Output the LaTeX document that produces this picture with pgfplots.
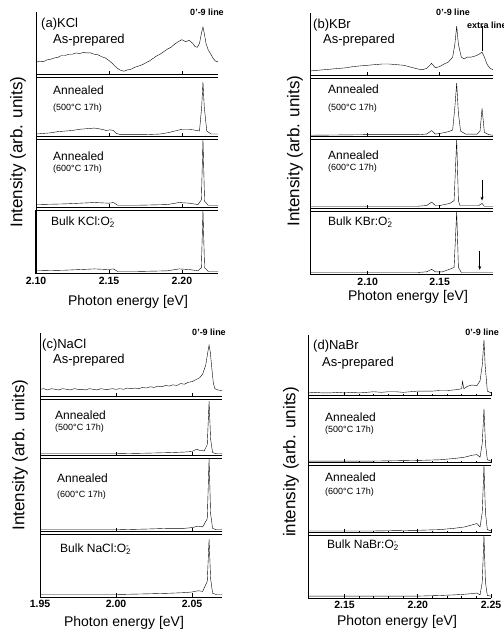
\documentclass[border=0pt]{standalone}
\usepackage{fontspec}
\setmainfont{Liberation Sans}
\usepackage{pgfplots}
\pgfplotsset{compat=1.18}
\usetikzlibrary{arrows.meta}

\newcommand{\Otwo}{O\rlap{\textsuperscript{-}}\textsubscript{2}}
\newcommand{\fs}[1]{\fontsize{#1}{#1}\selectfont}

\pgfplotsset{
  spec/.style={
    scale only axis, anchor=south west, clip=false,
    axis x line*=bottom, axis y line*=left,
    axis line style={line width=1.0pt},
    ymin=0, ymax=1, ytick=\empty,
    tick align=inside,
    major tick length=4pt, minor tick length=2pt,
    tick style={black, line width=0.8pt},
    xticklabels={},
    cycle list={{black, line width=0.9pt, no marks}},
  },
  % thin upper rule of the lower boxes
  midbox/.style={extra description/.code={
    \draw[line width=0.6pt] (rel axis cs:0,1) -- (rel axis cs:1,1);}},
  lowest/.style={
    xticklabel={\pgfmathprintnumber{\tick}},
    xticklabel style={font=\fs{10.5}\bfseries,
      /pgf/number format/.cd, fixed, fixed zerofill, precision=2,
      assume math mode=true},
  },
}

\begin{document}
\begin{tikzpicture}
\useasboundingbox (0pt,0pt) rectangle (503pt,634pt);

%% ---------------- (a) KCl ----------------
\pgfplotsset{pa/.style={spec, width=182pt, xmin=2.10, xmax=2.2247, xtick={2.10,2.15,2.20}}}
\begin{axis}[pa, at={(36pt,559pt)}, height=63pt]
\addplot coordinates {(2.1000,0.20) (2.1025,0.22) (2.1050,0.21) (2.1075,0.24) (2.1100,0.25)
 (2.1125,0.27) (2.1150,0.28) (2.1175,0.31) (2.1200,0.31) (2.1225,0.33) (2.1250,0.33)
 (2.1275,0.35) (2.1300,0.34) (2.1325,0.36) (2.1350,0.35) (2.1375,0.35) (2.1400,0.33)
 (2.1425,0.32) (2.1450,0.29) (2.1475,0.27) (2.1500,0.23) (2.1525,0.18) (2.1550,0.12)
 (2.1575,0.08) (2.1600,0.06) (2.1625,0.08) (2.1650,0.09) (2.1675,0.12) (2.1700,0.14)
 (2.1725,0.16) (2.1750,0.19) (2.1775,0.22) (2.1800,0.26) (2.1825,0.30) (2.1850,0.33)
 (2.1875,0.37) (2.1900,0.41) (2.1925,0.44) (2.1950,0.49) (2.1975,0.53) (2.2000,0.56)
 (2.2025,0.53) (2.2050,0.55) (2.2075,0.50) (2.2090,0.45) (2.2105,0.44) (2.2120,0.50)
 (2.2135,0.68) (2.2144,0.76) (2.2153,0.66) (2.2165,0.50) (2.2180,0.40) (2.2200,0.32)
 (2.2215,0.26) (2.2230,0.22) (2.2247,0.21)};
\end{axis}
\begin{axis}[pa, midbox, at={(36pt,497pt)}, height=59.5pt]
\addplot coordinates {(2.100,0.05) (2.105,0.06) (2.110,0.07) (2.115,0.09) (2.120,0.10)
 (2.125,0.11) (2.130,0.13) (2.135,0.14) (2.140,0.15) (2.145,0.13) (2.148,0.11) (2.151,0.12)
 (2.153,0.11) (2.155,0.06) (2.158,0.04) (2.165,0.04) (2.175,0.04) (2.185,0.05) (2.190,0.07)
 (2.195,0.10) (2.200,0.13) (2.205,0.13) (2.210,0.11) (2.212,0.10) (2.2135,0.50) (2.2144,0.92)
 (2.2153,0.50) (2.2170,0.10) (2.2200,0.05) (2.2247,0.05)};
\end{axis}
\begin{axis}[pa, midbox, at={(36pt,426pt)}, height=68.5pt]
\addplot coordinates {(2.100,0.05) (2.120,0.06) (2.140,0.08) (2.150,0.07) (2.153,0.08)
 (2.156,0.04) (2.170,0.04) (2.190,0.05) (2.198,0.08) (2.205,0.07) (2.211,0.05) (2.2133,0.12)
 (2.2144,1.00) (2.2155,0.10) (2.218,0.04) (2.2247,0.04)};
\end{axis}
\begin{axis}[pa, midbox, lowest, at={(36pt,360pt)}, height=63.5pt]
\addplot coordinates {(2.100,0.05) (2.120,0.06) (2.140,0.08) (2.150,0.07) (2.153,0.08)
 (2.156,0.04) (2.170,0.04) (2.190,0.05) (2.198,0.08) (2.205,0.07) (2.211,0.05) (2.2133,0.10)
 (2.2144,1.00) (2.2155,0.10) (2.218,0.04) (2.2247,0.04)};
\end{axis}

%% ---------------- (b) KBr ----------------
\pgfplotsset{pb/.style={spec, width=183pt, xmin=2.06, xmax=2.187, xtick={2.10,2.15}}}
\begin{axis}[pb, at={(310pt,558pt)}, height=63pt]
\addplot coordinates {(2.060,0.08) (2.065,0.09) (2.070,0.10) (2.075,0.11) (2.080,0.12)
 (2.085,0.13) (2.090,0.15) (2.095,0.16) (2.100,0.17) (2.105,0.18) (2.110,0.19) (2.115,0.19)
 (2.120,0.18) (2.125,0.17) (2.130,0.14) (2.135,0.11) (2.138,0.10) (2.141,0.12) (2.1444,0.20)
 (2.147,0.13) (2.150,0.15) (2.153,0.19) (2.156,0.22) (2.159,0.30) (2.1605,0.50) (2.1618,0.79)
 (2.163,0.50) (2.165,0.30) (2.167,0.27) (2.169,0.30) (2.172,0.30) (2.175,0.32) (2.177,0.34)
 (2.1794,0.38) (2.181,0.30) (2.183,0.18) (2.185,0.12) (2.187,0.10)};
\draw[line width=0.8pt] (axis cs:2.1794,0.40) -- (axis cs:2.1794,0.80);
\end{axis}
\begin{axis}[pb, midbox, at={(310pt,497pt)}, height=58.5pt]
\addplot coordinates {(2.060,0.03) (2.100,0.04) (2.125,0.04) (2.135,0.04) (2.141,0.05)
 (2.1444,0.11) (2.147,0.05) (2.150,0.06) (2.156,0.09) (2.159,0.12) (2.1605,0.50) (2.1618,0.92)
 (2.163,0.40) (2.1645,0.10) (2.168,0.05) (2.176,0.05) (2.178,0.10) (2.1794,0.49) (2.181,0.08)
 (2.184,0.04) (2.187,0.03)};
\end{axis}
\begin{axis}[pb, midbox, at={(310pt,425pt)}, height=69.5pt]
\addplot coordinates {(2.060,0.04) (2.100,0.04) (2.135,0.04) (2.141,0.05) (2.1444,0.10)
 (2.147,0.05) (2.150,0.05) (2.157,0.08) (2.160,0.12) (2.1618,1.00) (2.163,0.12) (2.164,0.05)
 (2.177,0.05) (2.1794,0.08) (2.181,0.04) (2.187,0.04)};
\draw[-{Stealth[length=4pt,width=3pt]}, line width=0.7pt] (axis cs:2.1794,0.42) -- (axis cs:2.1794,0.12);
\end{axis}
\begin{axis}[pb, midbox, lowest, at={(310pt,359pt)}, height=63.5pt]
\addplot coordinates {(2.060,0.04) (2.100,0.04) (2.135,0.04) (2.141,0.05) (2.1444,0.09)
 (2.147,0.05) (2.152,0.05) (2.158,0.10) (2.160,0.12) (2.1618,1.00) (2.163,0.12) (2.165,0.04)
 (2.187,0.04)};
\draw[-{Stealth[length=4pt,width=3pt]}, line width=0.7pt] (axis cs:2.1778,0.38) -- (axis cs:2.1778,0.08);
\end{axis}

%% ---------------- (c) NaCl ----------------
\pgfplotsset{pc/.style={spec, width=182pt, xmin=1.95, xmax=2.0697, xtick={1.95,2.00,2.05}}}
\begin{axis}[pc, at={(40pt,237pt)}, height=64pt]
\addplot coordinates {(1.950,0.12) (1.9525,0.13) (1.955,0.11) (1.9575,0.13) (1.960,0.12)
 (1.9625,0.11) (1.965,0.13) (1.9675,0.12) (1.970,0.11) (1.9725,0.13) (1.975,0.12) (1.9775,0.12)
 (1.980,0.11) (1.9825,0.13) (1.985,0.12) (1.9875,0.11) (1.990,0.13) (1.9925,0.12) (1.995,0.12)
 (1.9975,0.13) (2.000,0.12) (2.0025,0.13) (2.005,0.12) (2.0075,0.14) (2.010,0.13) (2.0125,0.14)
 (2.015,0.13) (2.0175,0.15) (2.020,0.14) (2.0225,0.16) (2.025,0.15) (2.0275,0.17) (2.030,0.16)
 (2.0325,0.18) (2.035,0.17) (2.0375,0.19) (2.040,0.18) (2.0425,0.21) (2.045,0.20) (2.0475,0.23)
 (2.050,0.24) (2.0525,0.27) (2.055,0.30) (2.057,0.36) (2.059,0.50) (2.0605,0.72) (2.0612,0.81)
 (2.062,0.70) (2.063,0.45) (2.064,0.22) (2.065,0.13) (2.067,0.11) (2.0697,0.10)};
\end{axis}
\begin{axis}[pc, midbox, at={(40pt,178pt)}, height=56.5pt]
\addplot coordinates {(1.950,0.04) (1.980,0.04) (2.000,0.04) (2.020,0.05) (2.035,0.06)
 (2.045,0.07) (2.050,0.08) (2.053,0.12) (2.055,0.10) (2.058,0.09) (2.0600,0.20) (2.0612,0.97)
 (2.0622,0.30) (2.0635,0.06) (2.066,0.04) (2.0697,0.04)};
\end{axis}
\begin{axis}[pc, midbox, at={(40pt,102pt)}, height=73.5pt]
\addplot coordinates {(1.950,0.03) (1.980,0.03) (2.000,0.03) (2.020,0.04) (2.035,0.05)
 (2.045,0.05) (2.050,0.06) (2.054,0.08) (2.057,0.07) (2.0600,0.18) (2.0612,1.00)
 (2.0622,0.25) (2.0635,0.05) (2.066,0.03) (2.0697,0.03)};
\end{axis}
\begin{axis}[pc, midbox, lowest, at={(40pt,37pt)}, height=62.5pt]
\addplot coordinates {(1.950,0.04) (1.980,0.04) (2.000,0.04) (2.020,0.05) (2.035,0.06)
 (2.045,0.07) (2.050,0.08) (2.054,0.10) (2.057,0.09) (2.0600,0.25) (2.0612,0.92)
 (2.0622,0.30) (2.0635,0.06) (2.066,0.04) (2.0697,0.04)};
\end{axis}

%% ---------------- (d) NaBr ----------------
\pgfplotsset{pd/.style={spec, width=183pt, xmin=2.125, xmax=2.25, xtick={2.15,2.20,2.25}, minor x tick num=4}}
\begin{axis}[pd, at={(308pt,238pt)}, height=61pt]
\addplot coordinates {(2.125,0.05) (2.130,0.06) (2.135,0.05) (2.140,0.05) (2.145,0.06)
 (2.150,0.05) (2.155,0.06) (2.160,0.05) (2.165,0.06) (2.170,0.07) (2.175,0.06) (2.180,0.07)
 (2.185,0.07) (2.190,0.06) (2.195,0.07) (2.200,0.08) (2.205,0.08) (2.210,0.08) (2.215,0.09)
 (2.220,0.09) (2.225,0.10) (2.228,0.11) (2.2300,0.12) (2.2305,0.24) (2.2315,0.12)
 (2.234,0.16) (2.237,0.18) (2.2404,0.17) (2.2425,0.25) (2.244,0.50) (2.2452,0.92)
 (2.246,0.50) (2.2475,0.08) (2.250,0.05)};
\end{axis}
\begin{axis}[pd, midbox, at={(308pt,171pt)}, height=64.5pt]
\addplot coordinates {(2.125,0.03) (2.170,0.03) (2.200,0.04) (2.215,0.05) (2.225,0.07)
 (2.232,0.09) (2.237,0.12) (2.2404,0.13) (2.2425,0.09) (2.2440,0.30) (2.2452,0.84)
 (2.2462,0.30) (2.2475,0.05) (2.250,0.03)};
\end{axis}
\begin{axis}[pd, midbox, at={(308pt,101pt)}, height=67.5pt]
\addplot coordinates {(2.125,0.03) (2.170,0.03) (2.200,0.04) (2.215,0.05) (2.225,0.07)
 (2.232,0.09) (2.237,0.12) (2.2404,0.14) (2.2425,0.09) (2.2440,0.30) (2.2452,1.00)
 (2.2462,0.30) (2.2475,0.05) (2.250,0.03)};
\end{axis}
\begin{axis}[pd, midbox, lowest, at={(308pt,36pt)}, height=62.5pt]
\addplot coordinates {(2.125,0.03) (2.170,0.03) (2.200,0.03) (2.215,0.04) (2.225,0.05)
 (2.232,0.06) (2.237,0.07) (2.2404,0.08) (2.2425,0.05) (2.2440,0.25) (2.2452,1.00)
 (2.2462,0.25) (2.2475,0.04) (2.250,0.03)};
\end{axis}

%% ---------------- labels and continuous left axis lines ----------------
\begin{scope}[x=1pt, y=1pt, every node/.style={inner sep=0pt}]
\draw[line width=1.0pt] (36,360) -- (36,622);
\draw[line width=1.0pt] (310,359) -- (310,621);
\draw[line width=1.0pt] (40,37) -- (40,301);
\draw[line width=1.0pt] (308,36) -- (308,299);
% (a)
\node[anchor=west, font=\fs{13}] at (41,610) {(a)KCl};
\node[anchor=west, font=\fs{13}] at (53,594) {As-prepared};
\node[font=\fs{9}\bfseries] at (207,622) {0’-9 line};
\node[anchor=west, font=\fs{12}] at (53,544) {Annealed};
\node[anchor=west, font=\fs{9}] at (53,526) {(500°C 17h)};
\node[anchor=west, font=\fs{12}] at (53,478) {Annealed};
\node[anchor=west, font=\fs{9}] at (53,465) {(600°C 17h)};
\node[anchor=west, font=\fs{12}] at (51,412) {Bulk KCl:\Otwo};
\node[rotate=90, font=\fs{17}] at (18,482) {Intensity (arb. units)};
\node[font=\fs{14}] at (128,332) {Photon energy [eV]};
% (b)
\node[anchor=west, font=\fs{13}] at (313,609) {(b)KBr};
\node[anchor=west, font=\fs{13}] at (323,594) {As-prepared};
\node[font=\fs{9}\bfseries] at (453,622) {0’-9 line};
\node[anchor=west, font=\fs{9}\bfseries] at (467,609) {extra line};
\node[anchor=west, font=\fs{12}] at (328,545) {Annealed};
\node[anchor=west, font=\fs{9}] at (328,526) {(500°C 17h)};
\node[anchor=west, font=\fs{12}] at (328,479) {Annealed};
\node[anchor=west, font=\fs{9}] at (328,466) {(600°C 17h)};
\node[anchor=west, font=\fs{12}] at (328,412) {Bulk KBr:\Otwo};
\node[rotate=90, font=\fs{17}] at (295,483) {Intensity (arb. units)};
\node[font=\fs{14}] at (408,337) {Photon energy [eV]};
% (c)
\node[anchor=west, font=\fs{13}] at (42,289) {(c)NaCl};
\node[anchor=west, font=\fs{13}] at (53,274) {As-prepared};
\node[font=\fs{9}\bfseries] at (209,302) {0’-9 line};
\node[anchor=west, font=\fs{12}] at (55,219) {Annealed};
\node[anchor=west, font=\fs{9}] at (55,206) {(500°C 17h)};
\node[anchor=west, font=\fs{12}] at (57,156) {Annealed};
\node[anchor=west, font=\fs{9}] at (57,139) {(600°C 17h)};
\node[anchor=west, font=\fs{12}] at (60,85) {Bulk NaCl:\Otwo};
\node[rotate=90, font=\fs{17}] at (20,179) {Intensity (arb. units)};
\node[font=\fs{14}] at (124,11) {Photon energy [eV]};
% (d)
\node[anchor=west, font=\fs{13}] at (313,288) {(d)NaBr};
\node[anchor=west, font=\fs{13}] at (322,271) {As-prepared};
\node[font=\fs{9}\bfseries] at (482,302) {0’-9 line};
\node[anchor=west, font=\fs{12}] at (325,217) {Annealed};
\node[anchor=west, font=\fs{9}] at (325,204) {(500°C 17h)};
\node[anchor=west, font=\fs{12}] at (325,157) {Annealed};
\node[anchor=west, font=\fs{9}] at (325,142) {(600°C 17h)};
\node[anchor=west, font=\fs{12}] at (327,89) {Bulk NaBr:\Otwo};
\node[rotate=90, font=\fs{17}] at (291,172) {intensity (arb. units)};
\node[font=\fs{14}] at (397,12) {Photon energy [eV]};
\end{scope}
\end{tikzpicture}
\end{document}
